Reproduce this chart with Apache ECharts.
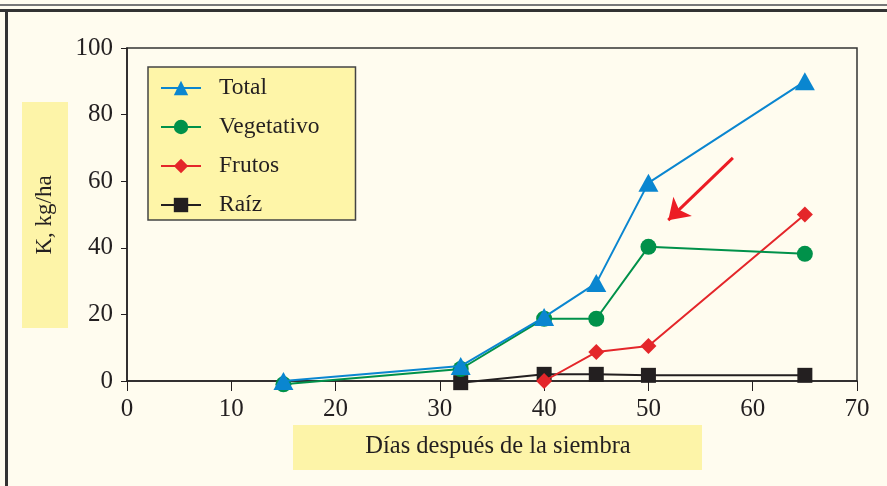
<!DOCTYPE html>
<html>
<head>
<meta charset="utf-8">
<script src="https://cdn.jsdelivr.net/npm/echarts@6/dist/echarts.min.js"></script>
<style>
  html, body { margin: 0; padding: 0; background: #fffcef; }
  #chart { width: 887px; height: 486px; }
</style>
</head>
<body>
<div id="chart"></div>
<script>
// days after sowing
var days = [15, 32, 40, 45, 50, 65];
var total = [0, 4.5, 19.2, 29.4, 59.5, 90];
var vegetativo = [-1, 3.6, 18.7, 18.7, 40.3, 38.2];
var frutosDays = [40, 45, 50, 65];
var frutos = [0, 8.7, 10.5, 50];
var raizDays = [32, 40, 45, 50, 65];
var raiz = [-0.5, 2, 2, 1.7, 1.7];
var xTicks = [0, 10, 20, 30, 40, 50, 60, 70];
var yTicks = [0, 20, 40, 60, 80, 100];
// annotation arrow, in data units
var arrowFrom = [58.1, 67];
var arrowTo = [51.9, 48.3];

var serif = '"Liberation Serif", "DejaVu Serif", serif';
var ink = '#231f20';

function pairs(xs, ys) {
    return xs.map(function (x, i) { return [x, ys[i]]; });
}

var chartDom = document.getElementById('chart');
var myChart = echarts.init(chartDom);
var option;

option = {
    backgroundColor: '#fffcef',
    animation: false,
    grid: {
        left: 127,
        right: 30,
        top: 48,
        bottom: 105,
        show: true,
        borderColor: '#333',
        borderWidth: 1.5,
        backgroundColor: 'transparent'
    },
    legend: {
        orient: 'vertical',
        left: 148,
        top: 67,
        padding: [9, 36, 3, 12],
        itemGap: 15,
        itemWidth: 40,
        itemHeight: 18,
        backgroundColor: '#fef5a8',
        borderColor: '#444',
        borderWidth: 1.5,
        textStyle: {
            fontFamily: serif,
            fontSize: 23.5,
            color: ink,
            lineHeight: 24,
            padding: [0, 0, 0, 13]
        },
        data: ['Total', 'Vegetativo', 'Frutos', 'Raíz']
    },
    xAxis: {
        type: 'value',
        min: 0,
        max: 70,
        interval: 10,
        splitLine: { show: false },
        axisLine: { lineStyle: { color: ink, width: 1.5 } },
        axisTick: { show: true, inside: false, length: 10, lineStyle: { color: ink, width: 1 } },
        axisLabel: {
            fontFamily: serif,
            fontSize: 25,
            color: ink,
            margin: 16,
            formatter: function (v) { return xTicks.indexOf(v) >= 0 ? v : ''; }
        }
    },
    yAxis: {
        type: 'value',
        min: 0,
        max: 100,
        interval: 20,
        splitLine: { show: false },
        axisLine: { show: true, lineStyle: { color: ink, width: 1.5 } },
        axisTick: { show: true, inside: false, length: 6, lineStyle: { color: ink, width: 1 } },
        axisLabel: {
            fontFamily: serif,
            fontSize: 25,
            color: ink,
            margin: 14,
            formatter: function (v) { return yTicks.indexOf(v) >= 0 ? v : ''; }
        }
    },
    graphic: [
        // page frame
        { type: 'line', shape: { x1: 0, y1: 5, x2: 887, y2: 5 }, style: { stroke: '#777', lineWidth: 2 } },
        { type: 'line', shape: { x1: 0, y1: 10.5, x2: 887, y2: 10.5 }, style: { stroke: '#333', lineWidth: 3 } },
        { type: 'line', shape: { x1: 6.5, y1: 10, x2: 6.5, y2: 486 }, style: { stroke: '#333', lineWidth: 3 } },
        // y axis title box
        { type: 'rect', shape: { x: 22, y: 102, width: 46, height: 226 }, style: { fill: '#fdf4a8' }, z: -1 },
        {
            type: 'text', x: 45, y: 215, rotation: Math.PI / 2,
            style: { text: 'K, kg/ha', fontFamily: serif, fontSize: 23, fill: ink, align: 'center', verticalAlign: 'middle' }
        },
        // x axis title box
        { type: 'rect', shape: { x: 293, y: 425, width: 409, height: 45 }, style: { fill: '#fdf4a8' }, z: -1 },
        {
            type: 'text', x: 498, y: 447,
            style: { text: 'Días después de la siembra', fontFamily: serif, fontSize: 24.5, fill: ink, align: 'center', verticalAlign: 'middle' }
        }
    ],
    series: [
        {
            name: 'Raíz',
            type: 'line',
            clip: false,
            data: pairs(raizDays, raiz),
            symbol: 'rect',
            symbolSize: 15,
            itemStyle: { color: ink },
            lineStyle: { color: ink, width: 2 },
            z: 2
        },
        {
            name: 'Frutos',
            type: 'line',
            clip: false,
            data: pairs(frutosDays, frutos),
            symbol: 'diamond',
            symbolSize: 16,
            itemStyle: { color: '#e4262a' },
            lineStyle: { color: '#e4262a', width: 2 },
            z: 3,
            markLine: {
                silent: true,
                symbol: ['none', 'arrow'],
                symbolSize: 20,
                label: { show: false },
                lineStyle: { color: '#ec1c24', width: 3, type: 'solid' },
                data: [[{ coord: arrowFrom }, { coord: arrowTo }]]
            }
        },
        {
            name: 'Vegetativo',
            type: 'line',
            clip: false,
            data: pairs(days, vegetativo),
            symbol: 'circle',
            symbolSize: 16,
            itemStyle: { color: '#00914a' },
            lineStyle: { color: '#00914a', width: 2 },
            z: 4
        },
        {
            name: 'Total',
            type: 'line',
            clip: false,
            data: pairs(days, total),
            symbol: 'triangle',
            symbolSize: [20, 18],
            itemStyle: { color: '#0a86d0' },
            lineStyle: { color: '#0a86d0', width: 2 },
            z: 5
        }
    ]
};

option && myChart.setOption(option);
</script>
</body>
</html>
